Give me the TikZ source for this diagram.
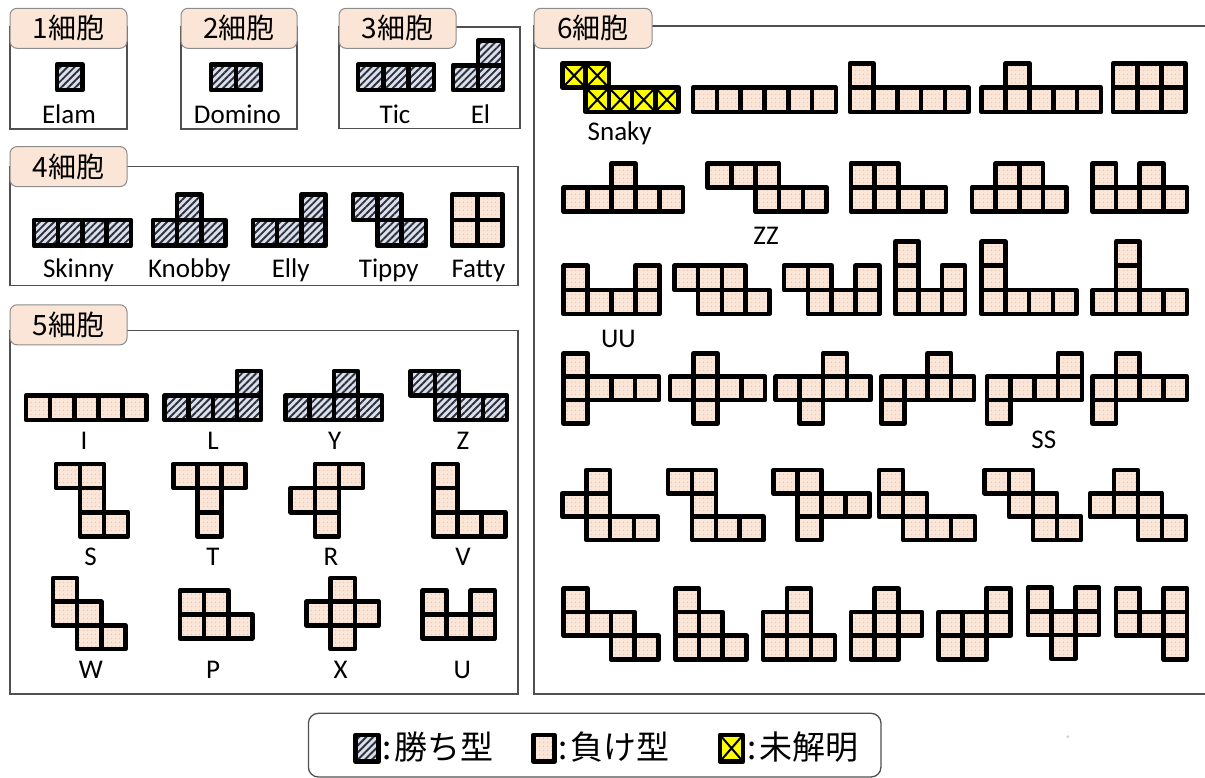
\documentclass[tikz,border=0pt]{standalone}
\usepackage{fontspec}
\setmainfont{Carlito}
\newfontfamily\jpfont{Noto Sans CJK JP}
\usetikzlibrary{patterns.meta}
\definecolor{tabfill}{HTML}{FBE5D6}
\definecolor{tabline}{HTML}{8C8C8C}
\definecolor{boxline}{HTML}{505050}
\definecolor{winbg}{HTML}{D9E0EE}
\definecolor{hatch}{HTML}{30303A}
\definecolor{losebg}{HTML}{FBE5D6}
\definecolor{dotc}{HTML}{A8A4B4}
\definecolor{unkfill}{HTML}{FFFF00}
\newcommand{\polyo}[6]{\foreach \c/\r in {#6}{\path[#5] ({#1+\c*#3},{#2+\r*#4}) rectangle ++(#3,#4);}}
\tikzset{
  cellw/.style={draw=black, line width=4.6pt, line join=round, preaction={fill=winbg},
    pattern={Lines[angle=45,distance=5pt,line width=1.9pt]}, pattern color=hatch},
  celll/.style={draw=black, line width=4.6pt, line join=round, preaction={fill=losebg},
    pattern={Dots[distance=4pt,radius=0.45pt]}, pattern color=dotc},
  cellu/.style={draw=black, line width=4.6pt, line join=round, fill=unkfill,
    path picture={\draw[line width=2pt,black]
      (path picture bounding box.north west) -- (path picture bounding box.south east)
      (path picture bounding box.south west) -- (path picture bounding box.north east);}},
  boxframe/.style={draw=boxline, line width=1.3pt},
  tab/.style={draw=tabline, fill=tabfill, line width=1pt, rounded corners=7pt,
    font=\jpfont\fontsize{28}{28}\selectfont, inner sep=0pt},
  lbl/.style={font=\fontsize{27}{27}\selectfont, inner sep=0pt, anchor=base},
  legtxt/.style={font=\jpfont\fontsize{33}{33}\selectfont, inner sep=0pt, anchor=west},
}
\begin{document}
\begin{tikzpicture}[x=1pt,y=-1pt]
\useasboundingbox (0,0) rectangle (1205,778);
% frames
\draw[boxframe] (10,27) rectangle (127,129);
\draw[boxframe] (181,27) rectangle (297,129);
\draw[boxframe] (339,27) rectangle (520,128.5);
\draw[boxframe] (10,166.7) rectangle (518,285.7);
\draw[boxframe] (10,330.7) rectangle (518,694);
\draw[boxframe] (1215,26) -- (534,26) -- (534,694) -- (1215,694);
% tabs
\node[tab, minimum width=117, minimum height=40] (t1) at (68.5,28.3) {1細胞};
\node[tab, minimum width=116, minimum height=40] (t2) at (239,28.3) {2細胞};
\node[tab, minimum width=117, minimum height=40] (t3) at (397.5,28.3) {3細胞};
\node[tab, minimum width=117, minimum height=40] (t4) at (68.5,166.6) {4細胞};
\node[tab, minimum width=117, minimum height=40] (t5) at (68.5,324.8) {5細胞};
\node[tab, minimum width=118, minimum height=40] (t6) at (593,28.3) {6細胞};
% 1-3 cells
\polyo{57}{64.5}{25.5}{25.5}{cellw}{0/0}
\polyo{211}{64.5}{25}{25.5}{cellw}{0/0,1/0}
\polyo{358}{64.5}{25.3}{25.5}{cellw}{0/0,1/0,2/0}
\polyo{453}{40.7}{25}{24.7}{cellw}{0/1,1/1,1/0}
\node[lbl] (lElam) at (69,124) {Elam};
\node[lbl] (lDomino) at (237.5,124) {Domino};
\node[lbl] (lTic) at (395,124) {Tic};
\node[lbl] (lEl) at (480.5,124) {El};
% 4 cells
\polyo{33.8}{194.7}{24.3}{25.5}{cellw}{0/1,1/1,2/1,3/1}
\polyo{152.8}{194.7}{24.3}{25.5}{cellw}{1/0,0/1,1/1,2/1}
\polyo{252.8}{194.7}{24.3}{25.5}{cellw}{2/0,0/1,1/1,2/1}
\polyo{353}{194.7}{24.3}{25.5}{cellw}{0/0,1/0,1/1,2/1}
\polyo{452}{194.7}{25.3}{25.5}{celll}{0/0,1/0,0/1,1/1}
\node[lbl] (lSkinny) at (78.5,277) {Skinny};
\node[lbl] (lKnobby) at (189.3,277) {Knobby};
\node[lbl] (lElly) at (290.7,277) {Elly};
\node[lbl] (lTippy) at (388.8,277) {Tippy};
\node[lbl] (lFatty) at (478.4,277) {Fatty};
% 5 cells
\polyo{26}{371}{24.1}{24.5}{celll}{0/1,1/1,2/1,3/1,4/1}
\polyo{164.6}{371}{24.1}{24.5}{cellw}{0/1,1/1,2/1,3/1,3/0}
\polyo{285.6}{371}{24.1}{24.5}{cellw}{0/1,1/1,2/1,3/1,2/0}
\polyo{410.7}{371}{24.1}{24.5}{cellw}{0/0,1/0,1/1,2/1,3/1}
\polyo{55.8}{463.8}{24.1}{24.2}{celll}{0/0,1/0,1/1,1/2,2/2}
\polyo{173.4}{463.8}{24.1}{24.2}{celll}{0/0,1/0,2/0,1/1,1/2}
\polyo{290.7}{463.8}{24.1}{24.2}{celll}{1/0,2/0,0/1,1/1,1/2}
\polyo{433.3}{463.8}{24.1}{24.2}{celll}{0/0,0/1,0/2,1/2,2/2}
\polyo{53}{578}{24.1}{23.7}{celll}{0/0,0/1,1/1,1/2,2/2}
\polyo{180}{590.3}{24.1}{24}{celll}{0/0,1/0,0/1,1/1,2/1}
\polyo{306.6}{578}{24.1}{23.7}{celll}{1/0,0/1,1/1,2/1,1/2}
\polyo{422.5}{590.3}{24.1}{24}{celll}{0/0,2/0,0/1,1/1,2/1}
\node[lbl] (lI) at (84,449) {I};
\node[lbl] (lL) at (213,449) {L};
\node[lbl] (lY) at (334.6,449) {Y};
\node[lbl] (lZ) at (463,449) {Z};
\node[lbl] (lS) at (90.6,565) {S};
\node[lbl] (lT) at (213,565) {T};
\node[lbl] (lR) at (331,565) {R};
\node[lbl] (lV) at (463,565) {V};
\node[lbl] (lW) at (91,678) {W};
\node[lbl] (lP) at (213,678) {P};
\node[lbl] (lX) at (340.7,678) {X};
\node[lbl] (lU) at (462.4,678) {U};
% 6 cells row A
\polyo{562.5}{63.5}{23.2}{24.2}{cellu}{0/0,1/0,1/1,2/1,3/1,4/1}
\polyo{693}{63.5}{23.8}{24.2}{celll}{0/1,1/1,2/1,3/1,4/1,5/1}
\polyo{850}{63.5}{23.7}{24.2}{celll}{0/0,0/1,1/1,2/1,3/1,4/1}
\polyo{981.7}{63.5}{23.85}{24.2}{celll}{1/0,0/1,1/1,2/1,3/1,4/1}
\polyo{1113}{63.5}{24.2}{24.2}{celll}{0/0,1/0,2/0,0/1,1/1,2/1}
\node[lbl] (lSnaky) at (619.7,141) {Snaky};
% row B
\polyo{563.6}{163.3}{23.9}{24.2}{celll}{2/0,0/1,1/1,2/1,3/1,4/1}
\polyo{707.6}{163.3}{23.8}{24.2}{celll}{0/0,1/0,2/0,2/1,3/1,4/1}
\polyo{851}{163.3}{23.75}{24.2}{celll}{0/0,1/0,0/1,1/1,2/1,3/1}
\polyo{971.8}{163.3}{23.7}{24.2}{celll}{1/0,2/0,0/1,1/1,2/1,3/1}
\polyo{1092.5}{163.3}{23.6}{24.2}{celll}{0/0,2/0,0/1,1/1,2/1,3/1}
\node[lbl] (lZZ) at (766,244) {ZZ};
% row C
\polyo{563.6}{265.8}{23.9}{24.1}{celll}{0/0,3/0,0/1,1/1,2/1,3/1}
\polyo{674.4}{265.8}{23.7}{24.1}{celll}{0/0,1/0,2/0,1/1,2/1,3/1}
\polyo{784}{265.8}{23.85}{24.1}{celll}{0/0,1/0,3/0,1/1,2/1,3/1}
\polyo{895.5}{241.7}{23.2}{24.1}{celll}{0/0,0/1,2/1,0/2,1/2,2/2}
\polyo{981.7}{241.7}{23.7}{24.1}{celll}{0/0,0/1,0/2,1/2,2/2,3/2}
\polyo{1092.5}{241.7}{23.6}{24.1}{celll}{1/0,1/1,0/2,1/2,2/2,3/2}
\node[lbl] (lUU) at (618.4,347) {UU};
% row D
\polyo{563.6}{353.3}{23.85}{23.4}{celll}{0/0,0/1,1/1,2/1,3/1,0/2}
\polyo{670}{353.3}{23.75}{23.4}{celll}{1/0,0/1,1/1,2/1,3/1,1/2}
\polyo{775.7}{353.3}{23.7}{23.4}{celll}{2/0,0/1,1/1,2/1,3/1,1/2}
\polyo{881.3}{353.3}{23.2}{23.4}{celll}{2/0,0/1,1/1,2/1,3/1,0/2}
\polyo{987}{353.3}{23.7}{23.4}{celll}{3/0,0/1,1/1,2/1,3/1,0/2}
\polyo{1092.5}{353.3}{23.6}{23.4}{celll}{1/0,0/1,1/1,2/1,3/1,0/2}
\node[lbl] (lSS) at (1043.8,448) {SS};
% row E
\polyo{562.3}{470}{23.9}{23.35}{celll}{1/0,0/1,1/1,1/2,2/2,3/2}
\polyo{668}{470}{23.9}{23.35}{celll}{0/0,1/0,1/1,1/2,2/2,3/2}
\polyo{773.5}{470}{24}{23.35}{celll}{0/0,1/0,1/1,2/1,3/1,1/2}
\polyo{879}{470}{24}{23.35}{celll}{0/0,0/1,1/1,1/2,2/2,3/2}
\polyo{984.7}{470}{24.1}{23.35}{celll}{0/0,1/0,1/1,2/1,2/2,3/2}
\polyo{1090}{470}{24}{23.35}{celll}{1/0,0/1,1/1,2/1,2/2,3/2}
% row F
\polyo{563.6}{588.3}{23.7}{23.7}{celll}{0/0,0/1,1/1,2/1,2/2,3/2}
\polyo{675.3}{588.3}{23.7}{23.7}{celll}{0/0,0/1,1/1,0/2,1/2,2/2}
\polyo{762.8}{588.3}{24}{23.7}{celll}{1/0,0/1,1/1,0/2,1/2,2/2}
\polyo{851}{588.3}{23.7}{23.7}{celll}{1/0,0/1,1/1,2/1,0/2,1/2}
\polyo{938.6}{588.3}{24}{23.7}{celll}{2/0,0/1,1/1,2/1,0/2,1/2}
\polyo{1027.8}{587.5}{23.7}{23.8}{celll}{0/0,2/0,0/1,1/1,2/1,1/2}
\polyo{1116}{588.3}{23.7}{23.7}{celll}{0/0,2/0,0/1,1/1,2/1,2/2}
% legend
\draw[draw=boxline, line width=1.3pt, rounded corners=10pt] (308.4,713.3) rectangle (881,777);
\polyo{355.5}{735}{23}{26.5}{cellw}{0/0}
\polyo{533.4}{735}{21}{26.5}{celll}{0/0}
\polyo{720}{735}{23}{26.5}{cellu}{0/0}
\node[legtxt] (lg1) at (382,747) {:\hspace{3pt}勝ち型};
\node[legtxt] (lg2) at (558,747) {:\hspace{3pt}負け型};
\node[legtxt] (lg3) at (747,747) {:\hspace{3pt}未解明};
\fill[gray!35] (1067.7,736.7) circle (1.6);
\end{tikzpicture}
\end{document}
